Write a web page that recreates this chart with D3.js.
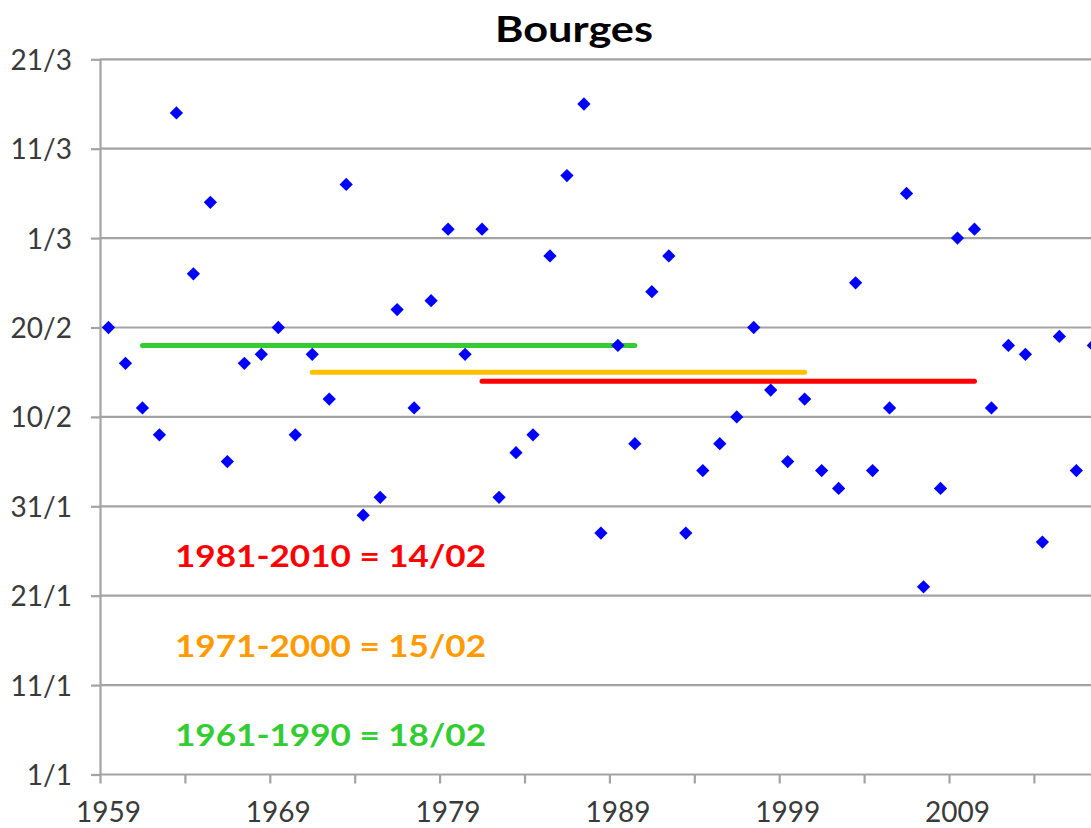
<!DOCTYPE html>
<html>
<head>
<meta charset="utf-8">
<script src="https://cdn.jsdelivr.net/npm/d3@7"></script>
<style>
  html, body { margin: 0; padding: 0; background: #fff; overflow: hidden; }
  svg { display: block; }
</style>
</head>
<body>
<svg id="chart" width="1091" height="828"></svg>
<script>
// Categories: years
const years = [1959,1960,1961,1962,1963,1964,1965,1966,1967,1968,
               1969,1970,1971,1972,1973,1974,1975,1976,1977,1978,
               1979,1980,1981,1982,1983,1984,1985,1986,1987,1988,
               1989,1990,1991,1992,1993,1994,1995,1996,1997,1998,
               1999,2000,2001,2002,2003,2004,2005,2006,2007,2008,
               2009,2010,2011,2012,2013,2014,2015,2016,2017];
// Series values: days after 1 January
const onsetDay = [50,46,41,38,74,56,64,35,46,47,
                  50,38,47,42,66,29,31,52,41,53,
                  61,47,61,31,36,38,58,67,75,27,
                  48,37,54,58,27,34,37,40,50,43,
                  35,42,34,32,55,34,41,65,21,32,
                  60,61,41,48,47,26,49,34,48];
// Y tick values (days after 1 January) and labels
const yTickValues = [0,10,20,30,40,50,60,70,80];
const yTickLabels = ["1/1","11/1","21/1","31/1","10/2","20/2","1/3","11/3","21/3"];
// X labels shown
const xLabelYears = [1959,1969,1979,1989,1999,2009];
// Normal periods
const periodLabel = ["1981-2010 = 14/02","1971-2000 = 15/02","1961-1990 = 18/02"];
const periodStart = [1981,1971,1961];
const periodEnd   = [2010,2000,1990];
const periodMean  = [44,45,48];
const periodLineColor = ["#FF0000","#FFC000","#33CC33"];
const periodTextColor = ["#FF0000","#FF9A00","#33CC33"];

const svg = d3.select("#chart");
const mLeft = 100, mTop = 59.3, mBottom = 774.5;
const step = 16.98;
const mRight = mLeft + years.length * step;

const x = d3.scaleBand().domain(years).range([mLeft, mRight]).padding(0);
const xc = d => x(d) + x.bandwidth() / 2;
const xl = d3.scaleLinear().domain([years[0] - 0.5, years[years.length - 1] + 0.5]).range([mLeft, mRight]);
const y = d3.scaleLinear().domain([0, 80]).range([mBottom, mTop]);

const gridColor = "#a3a3a3";
const labelColor = "#3a3a3a";
const font = "Lato, 'Open Sans', sans-serif";

// Gridlines
svg.append("g")
  .selectAll("line")
  .data(yTickValues.filter(v => v > 0))
  .join("line")
  .attr("x1", mLeft).attr("x2", mRight + 20)
  .attr("y1", d => y(d)).attr("y2", d => y(d))
  .attr("stroke", gridColor).attr("stroke-width", 2.2);

// Y axis
const yAxis = svg.append("g")
  .attr("transform", `translate(${mLeft},0)`)
  .call(d3.axisLeft(y).tickValues(yTickValues)
    .tickFormat((d, i) => yTickLabels[i]).tickSize(9).tickSizeOuter(0).tickPadding(19));
yAxis.select(".domain").attr("stroke", gridColor).attr("stroke-width", 2.2);
yAxis.selectAll(".tick line").attr("stroke", gridColor).attr("stroke-width", 2.2);
yAxis.selectAll(".tick text")
  .attr("fill", labelColor).style("font-family", font).style("font-size", "28px")
  .attr("dy", "0.36em");

// X axis ticks (between categories, every 5)
const xTickPos = [];
for (let i = 0; i <= years.length; i += 5) xTickPos.push(years[0] - 0.5 + i);
const xAxisTicks = svg.append("g")
  .attr("transform", `translate(0,${mBottom})`)
  .call(d3.axisBottom(xl).tickValues(xTickPos).tickFormat("").tickSize(9).tickSizeOuter(0));
xAxisTicks.select(".domain").attr("stroke", gridColor).attr("stroke-width", 2.2)
  .attr("d", `M${mLeft},0H${mRight + 20}`);
xAxisTicks.selectAll(".tick line").attr("stroke", gridColor).attr("stroke-width", 2.2);

// X labels
const xAxisLabels = svg.append("g")
  .attr("transform", `translate(0,${mBottom})`)
  .call(d3.axisBottom(x).tickValues(xLabelYears).tickSize(0).tickPadding(28));
xAxisLabels.select(".domain").remove();
xAxisLabels.selectAll(".tick text")
  .attr("fill", labelColor).style("font-family", font).style("font-size", "28px");

// Period mean lines
svg.append("g")
  .selectAll("line")
  .data(periodStart.map((s, i) => i))
  .join("line")
  .attr("x1", i => xc(periodStart[i]))
  .attr("x2", i => xc(periodEnd[i]))
  .attr("y1", i => y(periodMean[i]))
  .attr("y2", i => y(periodMean[i]))
  .attr("stroke", i => periodLineColor[i])
  .attr("stroke-width", 5)
  .attr("stroke-linecap", "round");

// Points (diamonds)
const diamond = d3.symbol().type(d3.symbolSquare).size(88);
svg.append("g")
  .selectAll("path")
  .data(years.map((yr, i) => ({ yr, v: onsetDay[i] })))
  .join("path")
  .attr("d", diamond)
  .attr("transform", d => `translate(${xc(d.yr)},${y(d.v)}) rotate(45)`)
  .attr("fill", "#0000FF");

// Annotations
const annotBaseline = [567, 656.5, 746];
svg.append("g")
  .selectAll("text")
  .data(periodLabel.map((t, i) => i))
  .join("text")
  .attr("x", 175)
  .attr("y", i => annotBaseline[i])
  .attr("fill", i => periodTextColor[i])
  .attr("textLength", 311)
  .attr("lengthAdjust", "spacingAndGlyphs")
  .style("font-family", font)
  .style("font-weight", "bold")
  .style("font-size", "31px")
  .text(i => periodLabel[i]);

// Title
svg.append("text")
  .attr("x", 495).attr("y", 42)
  .attr("textLength", 158)
  .attr("lengthAdjust", "spacingAndGlyphs")
  .attr("fill", "#000")
  .style("font-family", font)
  .style("font-weight", "bold")
  .style("font-size", "37px")
  .text("Bourges");
</script>
</body>
</html>
